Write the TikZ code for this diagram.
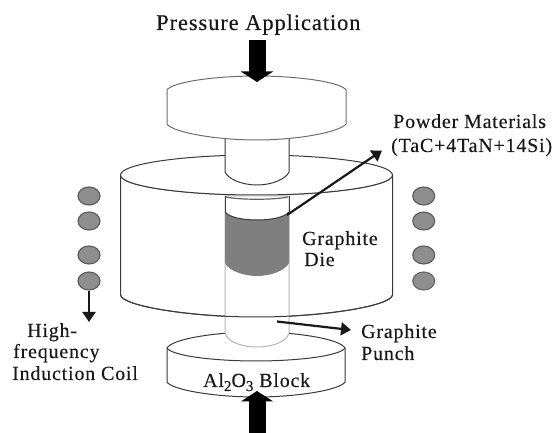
\documentclass[tikz,border=0pt]{standalone}
\usepackage{fontspec}
\setmainfont[LetterSpace=4,FakeBold=0.25]{Liberation Serif}
\usetikzlibrary{arrows.meta,shapes.geometric}
\definecolor{ink}{HTML}{3A3A3A}
\definecolor{soft}{HTML}{8A8A8A}
\definecolor{pale}{HTML}{B4B4B4}
\definecolor{coilfill}{HTML}{8E8E8E}
\definecolor{coiledge}{HTML}{666666}
\definecolor{powder}{HTML}{7F7F7F}
\tikzset{
  body/.style={draw=ink,line width=1pt,fill=white,line join=round},
  coil/.style={ellipse,draw=ink!85,line width=1.1pt,fill=coilfill,minimum width=22pt,minimum height=18pt,inner sep=0pt},
  label/.style={anchor=base west,inner sep=0pt,font=\fontsize{20}{22}\selectfont,text=black!90},
  pressure/.style={-{Triangle[length=10.5pt,width=32pt]},line width=17pt,draw=black},
  pointer/.style={-{Triangle[length=10pt,width=13pt]},line width=2.2pt,draw=black!90},
}
\newcommand{\lowfig}[1]{\raisebox{-4pt}{\fontsize{15}{15}\selectfont #1}}
\begin{document}
\begin{tikzpicture}[x=1pt,y=-1pt]
\useasboundingbox (0,0) rectangle (558,433);
% graphite die: wall and top rim
\path[body] (120.5,175) -- (120.5,295) .. controls (122,306) and (190,317) .. (256.5,317)
  .. controls (323,317) and (391,306) .. (392.5,295) -- (392.5,175)
  .. controls (392.5,186) and (331,195) .. (256.5,195)
  .. controls (182,195) and (120.5,186) .. (120.5,175) -- cycle;
\path[body] (120.5,175) .. controls (120.5,164) and (182,155) .. (256.5,155)
  .. controls (331,155) and (392.5,164) .. (392.5,175)
  .. controls (392.5,186) and (331,195) .. (256.5,195)
  .. controls (182,195) and (120.5,186) .. (120.5,175) -- cycle;
% alumina block
\path[body] (167,348) -- (167,382) .. controls (172,390) and (215,397) .. (256,397)
  .. controls (297,397) and (340,390) .. (345,382) -- (345,348)
  .. controls (340,339) and (297,332) .. (256,332)
  .. controls (215,332) and (172,339) .. (167,348) -- cycle;
\draw[ink,line width=1pt] (167,348) .. controls (172,356) and (215,361) .. (256,361)
  .. controls (297,361) and (340,356) .. (345,348);
% punch tube, lower part pale
\path[draw=pale,line width=1pt,fill=white] (225,196) -- (225,333) .. controls (227,341) and (240,347) .. (257,347)
  .. controls (274,347) and (287,341) .. (289,333) -- (289,196) -- cycle;
\draw[ink,line width=1pt] (120.5,295) .. controls (122,306) and (190,317) .. (256.5,317)
  .. controls (323,317) and (391,306) .. (392.5,295);
% powder charge
\path[fill=powder] (225,212) .. controls (230,218) and (245,220) .. (257,220)
  .. controls (269,220) and (284,218) .. (289,212) -- (289,263)
  .. controls (285,271) and (270,276) .. (257,276) .. controls (244,276) and (229,271) .. (225,263) -- cycle;
\draw[ink,line width=1pt] (225,212) .. controls (230,218) and (245,220) .. (257,220)
  .. controls (269,220) and (284,218) .. (289,212);
\draw[ink,line width=1pt] (225,196) -- (225,212) (289,196) -- (289,212);
\draw[ink!80,line width=1.2pt] (226,197) .. controls (240,200) and (274,200) .. (288,197);
% upper punch neck
\path[body] (225,138) -- (225,172) .. controls (228,179) and (242,185) .. (257,185)
  .. controls (272,185) and (286,179) .. (289,172) -- (289,138) -- cycle;
% top platen
\path[draw=soft!80!black,line width=1pt,fill=white] (167,90) .. controls (172,82) and (215,76) .. (256.5,76)
  .. controls (298,76) and (341,82) .. (346,90) -- (346,124)
  .. controls (340,132) and (298,140) .. (256.5,140)
  .. controls (215,140) and (172,132) .. (167,124) -- cycle;
% coils
\node[coil] (l1) at (89,196) {};
\node[coil] (l2) at (89,221) {};
\node[coil] (l3) at (89,255) {};
\node[coil] (l4) at (89,281) {};
\node[coil] (r1) at (423.7,196) {};
\node[coil] (r2) at (423.7,221) {};
\node[coil] (r3) at (423.7,255) {};
\node[coil,draw=coiledge] (r4) at (423.7,281) {};
% text
\node[label,font=\fontsize{22.5}{24}\selectfont] (title) at (156,30) {Pressure Application};
\node[label] (powdera) at (393,128) {Powder Materials};
\node[label] (powderb) at (391,152) {(TaC+4TaN+14Si)};
\node[label] (diea) at (302,245) {Graphite};
\node[label] (dieb) at (304,266) {Die};
\node[label] (puncha) at (361,338) {Graphite};
\node[label] (punchb) at (361,360) {Punch};
\node[label] (coila) at (27,337) {High-};
\node[label,text height=10pt] (coilb) at (13,358) {frequency};
\node[label] (coilc) at (12,380) {Induction Coil};
\node[label] (block) at (203,387) {Al\lowfig{2}O\lowfig{3} Block};
% arrows
\coordinate (topS) at (257,40);
\coordinate (topE) at (257,82);
\coordinate (botS) at (257,433);
\coordinate (botE) at (257,391);
\coordinate (powS) at (287,215);
\coordinate (powE) at (382,150.5);
\coordinate (punS) at (277,321.5);
\coordinate (punE) at (351,330);
\coordinate (coilE) at (89,322);
\draw[pressure] (topS) -- (topE);
\draw[pressure] (botS) -- (botE);
\draw[pointer] (powS) -- (powE);
\draw[pointer] (punS) -- (punE);
\draw[pointer] (l4.south) -- (coilE);
\end{tikzpicture}
\end{document}
